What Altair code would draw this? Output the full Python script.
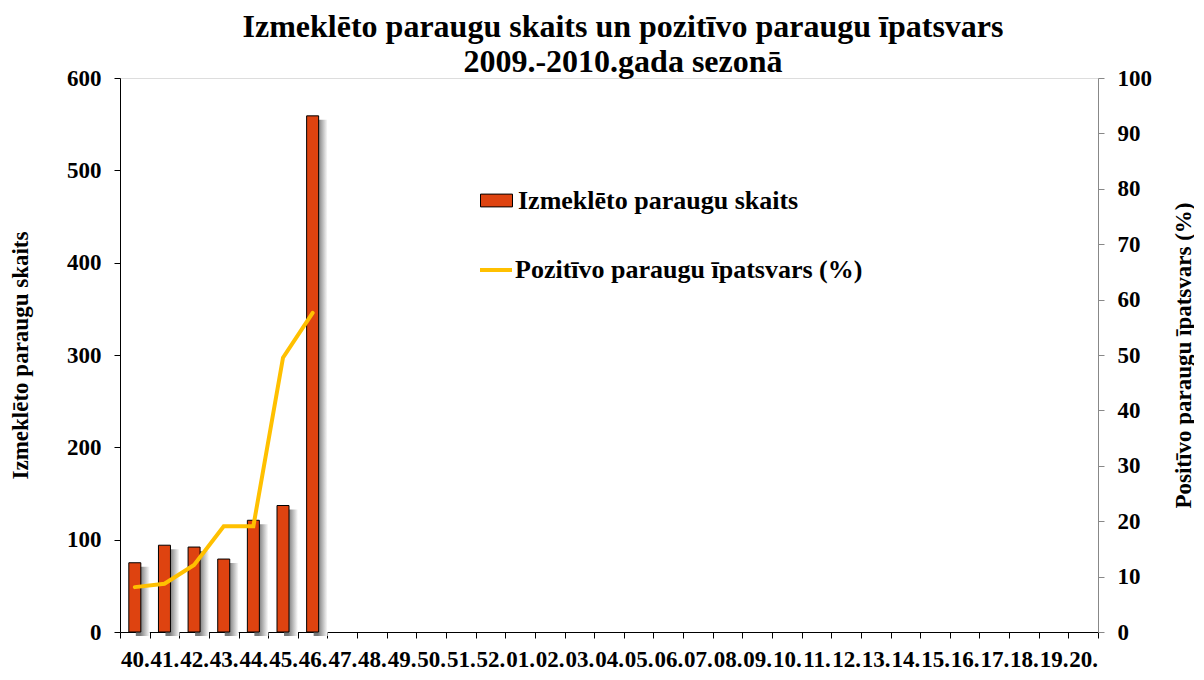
import altair as alt
import pandas as pd

# ---- data ----
weeks = ["40.", "41.", "42.", "43.", "44.", "45.", "46.", "47.", "48.", "49.", "50.",
         "51.", "52.", "01.", "02.", "03.", "04.", "05.", "06.", "07.", "08.", "09.",
         "10.", "11.", "12.", "13.", "14.", "15.", "16.", "17.", "18.", "19.", "20."]
sample_weeks = ["40.", "41.", "42.", "43.", "44.", "45.", "46."]
samples = [75, 94, 92, 79, 121, 137, 559]
positive_pct = [8.1, 8.7, 12.1, 19.1, 19.1, 49.5, 57.6]
left_ticks = [0, 100, 200, 300, 400, 500, 600]
right_ticks = [0, 10, 20, 30, 40, 50, 60, 70, 80, 90, 100]

bar_label = "Izmeklēto paraugu skaits"
line_label = "Pozitīvo paraugu īpatsvars (%)"
left_title = "Izmeklēto paraugu skaits"
right_title = "Positīvo paraugu īpatsvars (%)"
title_lines = ["Izmeklēto paraugu skaits un pozitīvo paraugu īpatsvars",
               "2009.-2010.gada sezonā"]

df_bar = pd.DataFrame({"week": sample_weeks, "samples": samples, "series": bar_label})
df_line = pd.DataFrame({"week": sample_weeks, "pct": positive_pct, "series": line_label})

FONT = "Liberation Serif"
BAR_COLOR = "#DE4310"
LINE_COLOR = "#FFC000"

x_enc = alt.X(
    "week:N",
    sort=weeks,
    scale=alt.Scale(domain=weeks, paddingInner=0, paddingOuter=0),
    axis=alt.Axis(
        title=None, labelAngle=0, tickBand="extent", labelOverlap=False,
        labelFont=FONT, labelFontSize=23, labelFontWeight="bold", labelColor="black",
        domainColor="black", tickColor="black", tickSize=6, labelPadding=10,
        grid=False,
    ),
)

y_left = alt.Y(
    "samples:Q",
    scale=alt.Scale(domain=[0, 600], nice=False),
    axis=alt.Axis(
        values=left_ticks, title=left_title, grid=False,
        labelFont=FONT, labelFontSize=23, labelFontWeight="bold", labelColor="black",
        domainColor="black", tickColor="black", tickSize=6, labelPadding=13,
        titleFont=FONT, titleFontSize=23, titleFontWeight="bold", titleColor="black",
        titleAngle=270, titleX=-100, titleY=277, titleAlign="center", titleBaseline="middle",
    ),
)

shadow = alt.Chart(df_bar).mark_bar(
    size=14, xOffset=8, yOffset=4,
    color=alt.Gradient(
        gradient="linear", x1=0, x2=1, y1=0, y2=0,
        stops=[alt.GradientStop(color="#787878", offset=0.3),
               alt.GradientStop(color="#ffffff", offset=1)],
    ),
).encode(x=x_enc, y=y_left)

bars = alt.Chart(df_bar).mark_bar(size=12, stroke="black", strokeWidth=1).encode(
    x=x_enc,
    y=y_left,
    fill=alt.Fill(
        "series:N",
        scale=alt.Scale(domain=[bar_label], range=[BAR_COLOR]),
        legend=alt.Legend(
            title=None, orient="none", legendX=360, legendY=106, padding=0,
            symbolType="M-1,-0.4H1V0.4H-1Z", symbolSize=1024, symbolOffset=0,
            symbolStrokeColor="black", symbolStrokeWidth=1, symbolFillColor=BAR_COLOR,
            labelFont=FONT, labelFontSize=26, labelFontWeight="bold", labelColor="black",
            labelOffset=5, labelLimit=600,
        ),
    ),
)

line = alt.Chart(df_line).mark_line(strokeWidth=4, strokeCap="round").encode(
    x=x_enc,
    y=alt.Y(
        "pct:Q",
        scale=alt.Scale(domain=[0, 100], nice=False),
        axis=alt.Axis(
            orient="right", values=right_ticks, title=right_title, grid=False,
            labelFont=FONT, labelFontSize=23, labelFontWeight="bold", labelColor="black",
            domainColor="#888888", tickColor="#888888", tickSize=6, labelPadding=13,
            titleFont=FONT, titleFontSize=23, titleFontWeight="bold", titleColor="black",
            titleAngle=270, titleX=85, titleY=277, titleAlign="center", titleBaseline="middle",
        ),
    ),
    stroke=alt.Stroke(
        "series:N",
        scale=alt.Scale(domain=[line_label], range=[LINE_COLOR]),
        legend=alt.Legend(
            title=None, orient="none", legendX=358, legendY=174, padding=0,
            symbolType="stroke", symbolSize=1024, symbolOffset=0, symbolStrokeWidth=4,
            labelFont=FONT, labelFontSize=26, labelFontWeight="bold", labelColor="black",
            labelOffset=1, labelLimit=600,
        ),
    ),
)

chart = alt.layer(alt.layer(shadow, bars), line).resolve_scale(
    y="independent", fill="independent", stroke="independent"
).properties(
    width=978,
    height=554,
    autosize=alt.AutoSizeParams(type="none"),
    padding={"left": 112, "top": 70, "right": 96, "bottom": 40},
    title=alt.TitleParams(
        text=title_lines, font=FONT, fontSize=32, fontWeight="bold", color="black",
        lineHeight=35, anchor="middle", offset=2, dx=14, dy=14,
    ),
).configure_view(stroke=None).configure(background="white")

chart.save("out.html", embed_options={"renderer": "svg", "actions": False})
